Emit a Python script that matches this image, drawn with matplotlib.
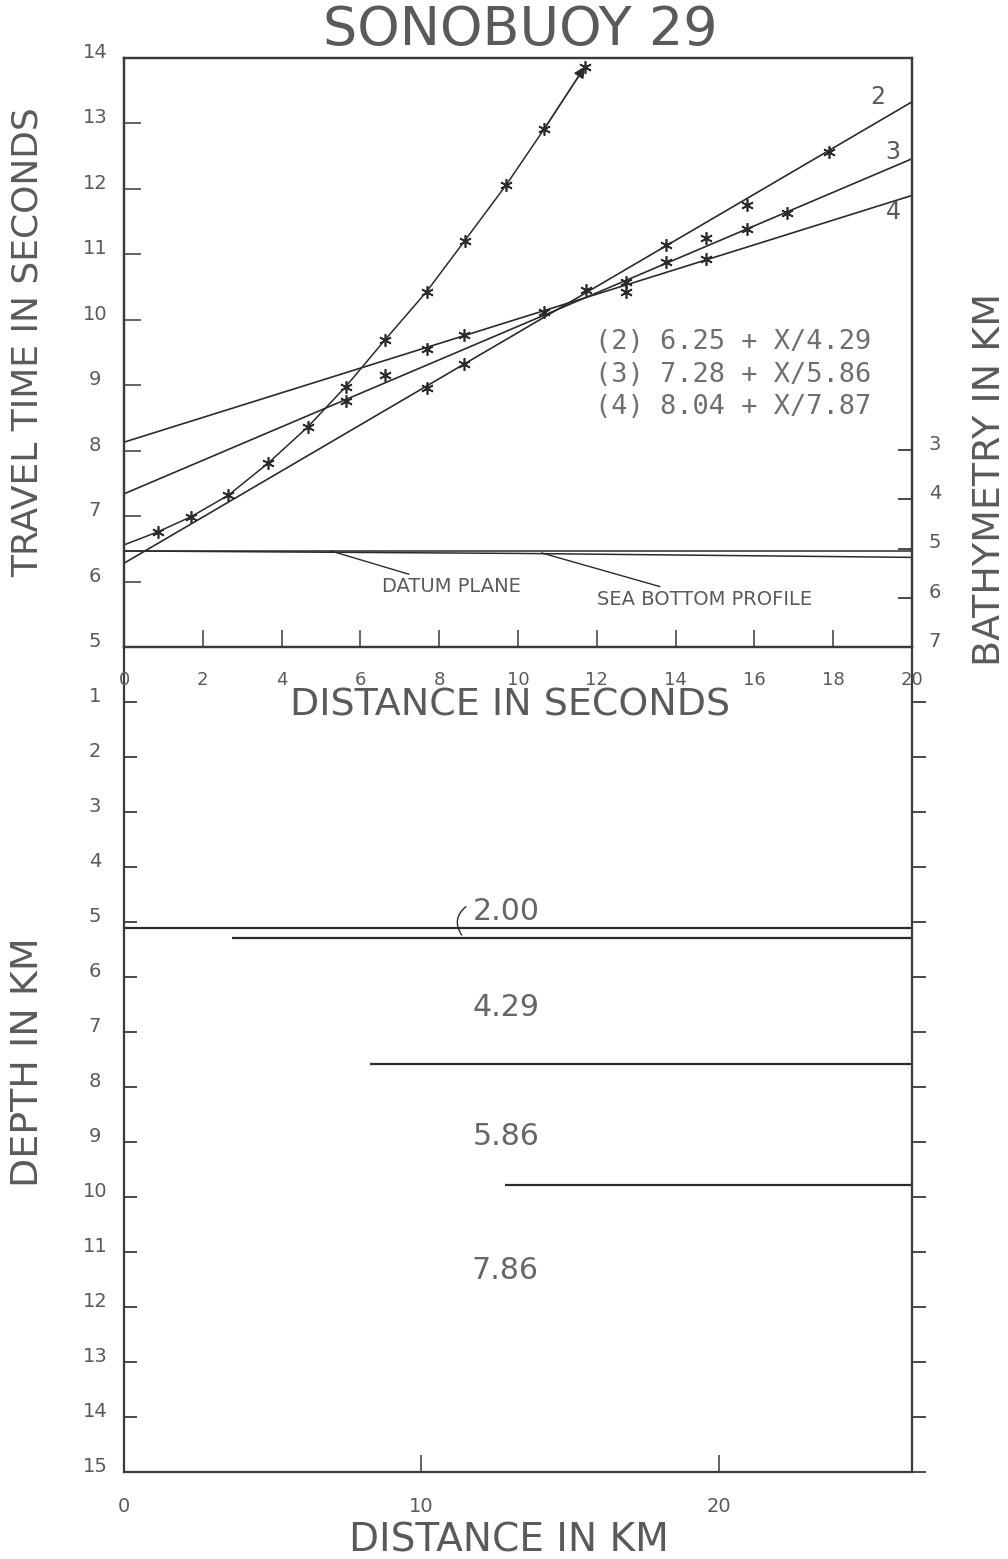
import matplotlib
matplotlib.use('Agg')
import matplotlib.pyplot as plt

W, H, DPI = 1008, 1559, 100
plt.rcParams['font.family'] = ['DejaVu Sans']

TXT = '#5a5a5a'
INK = '#2b2b2b'

# ---------------- data ----------------
title = "SONOBUOY 29"

# direct (water) wave: distance in seconds, travel time in seconds
direct_dist = [0.0, 0.86, 1.70, 2.65, 3.66, 4.66, 5.63, 6.62, 7.68, 8.65, 9.70, 10.67, 11.70]
direct_time = [6.56, 6.76, 6.99, 7.32, 7.81, 8.36, 8.98, 9.69, 10.43, 11.21, 12.06, 12.92, 13.87]

# refracted arrivals
refr_dist = [5.63, 6.62, 7.68, 7.68, 8.63, 8.63, 10.67, 11.72, 12.74, 12.74,
             13.76, 13.76, 14.77, 14.77, 15.80, 15.80, 16.84, 17.90]
refr_time = [8.76, 9.16, 9.56, 8.96, 9.76, 9.32, 10.12, 10.45, 10.58, 10.42,
             11.15, 10.88, 11.25, 10.93, 11.76, 11.38, 11.63, 12.56]

# fitted refraction lines (time at 0 s and at 20 s)
line_ids = ['2', '3', '4']
line_t_start = [6.28, 7.34, 8.13]
line_t_end = [13.33, 12.46, 11.90]
line_label_pos = [(19.14, 13.41), (19.52, 12.57), (19.52, 11.65)]
equations = ["(2) 6.25 + X/4.29", "(3) 7.28 + X/5.86", "(4) 8.04 + X/7.87"]

# bathymetry (km)
datum_dist = [0.0, 20.0]
datum_depth = [5.05, 5.05]
seabed_dist = [0.0, 10.0, 20.0]
seabed_depth = [5.05, 5.10, 5.18]

# depth section
layer_depth = [5.10, 5.29, 7.59, 9.78]
layer_start_km = [0.0, 3.63, 8.27, 12.80]
velocity_labels = ["2.00", "4.29", "5.86", "7.86"]
velocity_label_depth = [4.80, 6.56, 8.90, 11.33]
velocity_label_km = [12.84, 12.84, 12.84, 12.80]

top_xticks = list(range(0, 21, 2))
top_yticks = list(range(5, 15))
bathy_ticks = [3, 4, 5, 6, 7]
depth_ticks = list(range(1, 16))
km_ticks = [0, 10, 20]

# ---------------- layout ----------------
fig = plt.figure(figsize=(W / DPI, H / DPI), dpi=DPI)


def fx(px):
    return px / W


def fy(py):
    return 1 - py / H


def pt(px):
    return px * 72.0 / DPI


L, R = 124, 912
TOP, MID, BOT = 58, 647, 1472

axb = fig.add_axes([fx(L), fy(BOT), (R - L) / W, (BOT - MID) / H])
axt = fig.add_axes([fx(L), fy(MID), (R - L) / W, (MID - TOP) / H])

for ax in (axt, axb):
    for s in ax.spines.values():
        s.set_color('#3a3a3a')
        s.set_linewidth(1.6)
axb.spines['top'].set_visible(False)

# ---------------- top panel ----------------
axt.set_xlim(0, 20)
axt.set_ylim(5, 14)
axt.set_xticks(top_xticks)
axt.set_xticklabels([str(v) for v in top_xticks])
axt.set_yticks(top_yticks)
axt.set_yticklabels([str(v) for v in top_yticks])
axt.tick_params(axis='x', direction='in', length=12, width=1.1, color='#3a3a3a',
                labelsize=13, labelcolor=TXT, pad=pt(33))
axt.tick_params(axis='y', direction='in', length=12, width=1.1, color='#3a3a3a',
                labelsize=14, labelcolor=TXT, pad=pt(29), right=False)
for lab in axt.get_xticklabels():
    lab.set_va('center')
for lab in axt.get_yticklabels():
    lab.set_ha('center')
    lab.set_va('baseline')

# refraction lines
for t0, t1 in zip(line_t_start, line_t_end):
    axt.plot([0, 20], [t0, t1], color=INK, lw=1.2, solid_capstyle='butt')
for lid, (lx, ly) in zip(line_ids, line_label_pos):
    axt.text(lx, ly, lid, fontsize=17, color=TXT, ha='center', va='center')

# direct wave
axt.plot(direct_dist[:-1], direct_time[:-1], color=INK, lw=1.1)
axt.annotate('', xy=(direct_dist[-1], direct_time[-1]),
             xytext=(direct_dist[-2], direct_time[-2]),
             arrowprops=dict(arrowstyle='-|>', color=INK, lw=1.3,
                             mutation_scale=16, shrinkA=0, shrinkB=0))
axt.plot(direct_dist[1:], direct_time[1:], ls='none', marker=(6, 2, 0),
         ms=9, mew=1.2, color=INK)
axt.plot(refr_dist, refr_time, ls='none', marker=(6, 2, 0),
         ms=9, mew=1.2, color=INK)

# equations
for i, eq in enumerate(equations):
    fig.text(fx(595), fy(342 + i * 32.5), eq, family='DejaVu Sans Mono',
             fontsize=pt(27), color='#6e6e6e', ha='left', va='center')

# bathymetry axis
axr = axt.twinx()
axr.set_ylim(7, 7 - (MID - TOP) / 49.25)
axr.set_yticks(bathy_ticks)
axr.set_yticklabels([str(v) for v in bathy_ticks])
axr.tick_params(axis='y', direction='in', length=10, width=1.3, color='#3a3a3a',
                labelsize=14, labelcolor=TXT, pad=pt(23))
for lab in axr.get_yticklabels():
    lab.set_ha('center')
    lab.set_va('baseline')
for s in axr.spines.values():
    s.set_color('#3a3a3a')
    s.set_linewidth(1.6)

axr.plot(datum_dist, datum_depth, color=INK, lw=1.1)
axr.plot(seabed_dist, seabed_depth, color=INK, lw=1.1)
axr.annotate('DATUM PLANE', xy=(5.25, datum_depth[0]), xytext=(6.55, 5.78),
             fontsize=14, color=TXT, ha='left', va='center',
             arrowprops=dict(arrowstyle='-', color=INK, lw=1.0, shrinkA=1, shrinkB=0))
axr.annotate('SEA BOTTOM PROFILE', xy=(10.6, 5.09), xytext=(12.0, 6.03),
             fontsize=14, color=TXT, ha='left', va='center',
             arrowprops=dict(arrowstyle='-', color=INK, lw=1.0, shrinkA=1, shrinkB=0))

# ---------------- bottom panel ----------------
axb.set_xlim(0, 26.5)
axb.set_ylim(15, 0)
axb.set_xticks(km_ticks)
axb.set_xticklabels([str(v) for v in km_ticks])
axb.set_yticks(depth_ticks)
axb.set_yticklabels([str(v) for v in depth_ticks])
axb.tick_params(axis='x', direction='in', length=12, width=1.1, color='#3a3a3a',
                labelsize=14, labelcolor=TXT, pad=pt(35))
axb.tick_params(axis='y', direction='in', length=9, width=1.3, color='#3a3a3a',
                labelsize=14, labelcolor=TXT, pad=pt(29))
for lab in axb.get_xticklabels():
    lab.set_va('center')
for lab in axb.get_yticklabels():
    lab.set_ha('center')
    lab.set_va('baseline')

axb2 = axb.twinx()
axb2.set_ylim(15, 0)
axb2.set_yticks(depth_ticks)
axb2.tick_params(axis='y', direction='out', length=10, width=1.3, color='#3a3a3a',
                 labelright=False)
for s in axb2.spines.values():
    s.set_visible(False)

axb.hlines(layer_depth, layer_start_km, 26.5, color=INK, lw=1.6)
for lab, d, k in zip(velocity_labels, velocity_label_depth, velocity_label_km):
    axb.text(k, d, lab, fontsize=pt(30), color='#666666', ha='center', va='center')
axb.annotate('', xy=(11.36, 5.24), xytext=(11.5, 4.72),
             arrowprops=dict(arrowstyle='-', color=INK, lw=1.0, shrinkA=0, shrinkB=0,
                             connectionstyle='arc3,rad=0.45'))

# ---------------- titles / labels ----------------
fig.text(fx(520), fy(30), title, fontsize=pt(54), color=TXT, ha='center', va='center')
fig.text(fx(28), fy(342), 'TRAVEL TIME IN SECONDS', rotation=90, fontsize=pt(36),
         color=TXT, ha='center', va='center')
fig.text(fx(990), fy(479), 'BATHYMETRY IN KM', rotation=90, fontsize=pt(38),
         color=TXT, ha='center', va='center')
fig.text(fx(510), fy(706), 'DISTANCE IN SECONDS', fontsize=pt(38),
         color=TXT, ha='center', va='center')
fig.text(fx(28), fy(1062), 'DEPTH IN KM', rotation=90, fontsize=pt(38),
         color=TXT, ha='center', va='center')
fig.text(fx(509), fy(1540), 'DISTANCE IN KM', fontsize=pt(39),
         color=TXT, ha='center', va='center')

fig.savefig('out.png', dpi=DPI)
